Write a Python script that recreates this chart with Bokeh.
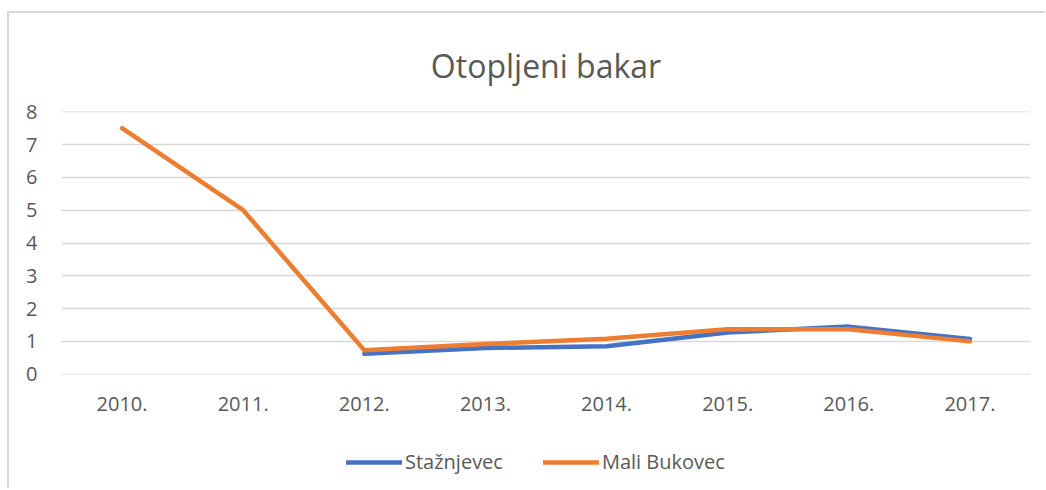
from bokeh.plotting import figure
from bokeh.models import ColumnDataSource, FactorRange, Range1d, Legend, LegendItem, FixedTicker
from bokeh.layouts import column
from bokeh.embed import file_html
from bokeh.resources import INLINE

years = ["2010.", "2011.", "2012.", "2013.", "2014.", "2015.", "2016.", "2017."]
staznjevec = [float("nan"), float("nan"), 0.62, 0.8, 0.85, 1.27, 1.45, 1.07]
mali_bukovec = [7.5, 5.0, 0.73, 0.92, 1.08, 1.37, 1.37, 1.0]
series_names = ["Stažnjevec", "Mali Bukovec"]
series_colors = ["#4472C4", "#ED7D31"]

FONT = "Open Sans"
GREY = "#595959"

src = ColumnDataSource(dict(x=years, s=staznjevec, m=mali_bukovec))
xr = FactorRange(*years, range_padding=0)

p = figure(frame_width=969, frame_height=263, x_range=xr,
           y_range=Range1d(-0.01, 8.01), output_backend="svg", toolbar_location=None,
           min_border_left=52, min_border_right=15, min_border_top=98, min_border_bottom=60)

p.title.text = "Otopljeni bakar"
p.title.align = "center"
p.title.text_font = FONT
p.title.text_font_size = "32px"
p.title.text_font_style = "normal"
p.title.text_color = GREY
p.title.standoff = 50

p.outline_line_color = None
p.xgrid.grid_line_color = None
p.ygrid.grid_line_color = "#d9d9d9"
p.ygrid.grid_line_width = 1.5
p.yaxis.ticker = FixedTicker(ticks=[0, 1, 2, 3, 4, 5, 6, 7, 8])

for ax in (p.xaxis, p.yaxis):
    ax.axis_line_color = None
    ax.major_tick_line_color = None
    ax.minor_tick_line_color = None
    ax.major_label_text_font = FONT
    ax.major_label_text_font_size = "20px"
    ax.major_label_text_color = GREY
p.yaxis.major_label_standoff = 18
p.xaxis.major_label_standoff = 16

for field, col in zip(["s", "m"], series_colors):
    p.line("x", field, source=src, line_color=col, line_width=4.5,
           line_cap="round", line_join="round")

# legend strip below the chart (its lines fall outside this strip's y range)
p2 = figure(width=1036, height=54, x_range=xr, y_range=Range1d(50, 51),
            x_axis_type=None, y_axis_type=None, output_backend="svg", toolbar_location=None,
            min_border=0)
p2.outline_line_color = None
p2.xgrid.visible = False
p2.ygrid.visible = False
items = []
for name, field, col in zip(series_names, ["s", "m"], series_colors):
    r = p2.line("x", field, source=src, line_color=col, line_width=4.5, line_cap="round")
    items.append(LegendItem(label=name, renderers=[r]))

legend = Legend(items=items, orientation="horizontal", location=(285, 13),
                label_text_font=FONT, label_text_font_size="20px", label_text_color=GREY,
                glyph_width=56, label_standoff=3, spacing=40, padding=0, margin=0,
                border_line_color=None, background_fill_alpha=0)
p2.add_layout(legend)

layout = column(p, p2, spacing=0)
layout.styles = {"margin-left": "7px", "margin-top": "11px",
                 "border-left": "2px solid #d9d9d9", "border-top": "2px solid #d9d9d9"}

out = file_html(layout, INLINE)
open("out.html", "w").write(out)
